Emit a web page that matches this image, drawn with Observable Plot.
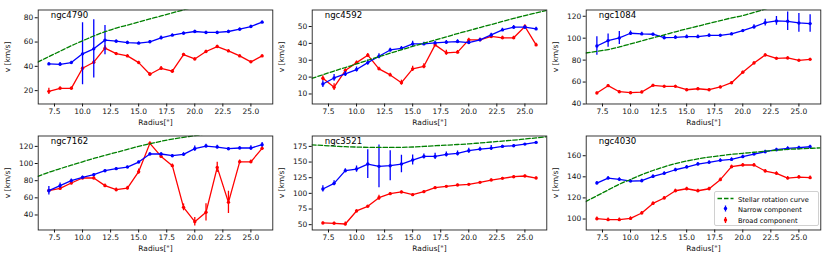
<!DOCTYPE html>
<html><head><meta charset="utf-8">
<script src="https://cdn.jsdelivr.net/npm/d3@7"></script>
<script src="https://cdn.jsdelivr.net/npm/@observablehq/plot@0.6"></script>
<style>
body{margin:0;background:#fff;}
#root{position:relative;width:830px;height:260px;overflow:hidden;font-family:"DejaVu Sans",sans-serif;background:#fff;}
.panel{position:absolute;}
#legend{position:absolute;left:714px;top:191px;width:103px;height:33px;border:0.8px solid #d0d0d0;border-radius:2px;background:rgba(255,255,255,0.85);font-family:"DejaVu Sans",sans-serif;font-size:6.7px;color:#000;}
</style></head><body><div id="root"></div>
<script>
// ---- data ----
const radius = [7,8,9,10,11,12,13,14,15,16,17,18,19,20,21,22,23,24,25,26];
const stellarRadius = [6,7,8,9,10,11,12,13,14,15,16,17,18,19,20,21,22,23,24,25,26,27];
const galaxyNames = ["ngc4790","ngc4592","ngc1084","ngc7162","ngc3521","ngc4030"];
const xTicks = [7.5,10,12.5,15,17.5,20,22.5,25];

const narrow_ngc4790 = [42.0,41.7,43.1,50.3,54.4,61.6,60.7,59.6,59.1,60.2,63.5,65.7,67.3,68.7,67.9,67.9,68.7,70.6,72.8,76.4];
const narrowErr_ngc4790 = [1,1.5,1,25.5,24,12,1,1,1,1,1.5,1,1,1,1,1,1,1,1,1];
const broad_ngc4790 = [19.4,21.9,21.9,38.4,43.4,55.0,50.5,48.6,43.1,33.5,38.4,36.0,49.7,46.1,52.2,56.3,52.7,48.6,43.7,48.6];
const broadErr_ngc4790 = [2.5,1,1,1.5,1.5,2,1,1,1,1.5,1.5,1.5,1,1,1,1,1,1,1,1];
const stellar_ngc4790 = [43.5,48,52.5,57,61,65,68.5,71.5,74,76.5,79,81.5,84,86.5,89,91.5,94,96.5,99,101,103,105];

const narrow_ngc4592 = [15.9,19.5,21.9,24.5,28.6,32.4,36.1,37.1,39.7,39.7,40.3,40.7,41.1,40.5,42.1,45.0,48.0,49.6,49.6,48.6];
const narrowErr_ngc4592 = [2,2,1.5,1.5,1.5,1.5,1,1,1.5,1,1,1,1,1,1,1,1,1,1,1];
const broad_ngc4592 = [19.3,14.0,23.9,28.6,33.0,24.9,21.3,16.7,24.9,26.4,39.1,34.4,34.8,42.1,42.1,44.1,43.3,43.3,50.0,39.1];
const broadErr_ngc4592 = [1.5,2,1,1,1,1,1,1.5,1.5,1.5,1,1.5,1,1,1,1,1,1,1,1];
const stellar_ngc4592 = [19.2,21.4,23.6,25.7,27.8,30,32.1,34.2,36.2,38.2,40.1,42,43.9,45.8,47.6,49.4,51.2,53,54.8,56.5,58.1,59.7];

const narrow_ngc1084 = [92.9,97.8,100.2,104.5,103.9,103.6,100.5,100.8,101.4,101.4,102.6,102.6,103.9,106.9,110.3,114.2,115.7,115.4,113.9,113.3];
const narrowErr_ngc1084 = [8.5,6,6,2,1.5,1,2,1.5,1.5,1.5,1.5,1,1,1,2,3,4,8.5,8.5,8];
const broad_ngc1084 = [50.0,56.7,51.2,50.3,50.9,57.0,56.1,56.1,53.0,53.9,53.0,55.5,59.4,68.9,77.4,84.7,81.6,82.0,79.8,80.7];
const broadErr_ngc1084 = [1,1,1,1,1,1,1,1,1,1,1,1,1,1,1,1,1,1,1,1];
const stellar_ngc1084 = [86.5,88,89.6,92,94.8,97.5,100.3,103,105.8,108.5,111,113.5,116,118.5,120.6,123.5,126.5,129.5,132.5,135.5,138.5,141.5];

const narrow_ngc7162 = [68.3,74.2,80.0,83.9,87.0,91.6,94.0,95.9,101.7,111.1,111.1,109.1,110.7,117.3,120.4,119.2,117.3,118.1,118.1,121.9];
const narrowErr_ngc7162 = [5,3,2,1.5,1,1,1,1,1,1.5,1.5,1.5,2,3,2,2,1.5,1.5,2.5,2.5];
const broad_ngc7162 = [68.5,71.0,77.3,83.1,83.1,74.2,69.5,71.4,90.5,123.5,108.3,97.5,48.9,32.2,43.1,95.5,54.7,102,102,117.7];
const broadErr_ngc7162 = [1,2,2,1.5,1.5,2,2,2,3,2,2,2,4,5,10,6,13,2,2,2];
const stellar_ngc7162 = [85,89.8,94,98,102,106,109.5,113,116.5,120,123,126,128.5,130.5,132.5,134.5,136.5,138.5,140.5,142.5,144.5,146.5];

const narrow_ngc3521 = [107.0,116.0,136.2,138.8,146.8,143.1,144.2,146.8,153.2,159.0,159.0,162.2,163.8,168.1,170.7,172.3,175.0,176.1,178.7,181.4];
const narrowErr_ngc3521 = [5,4,3,5,23,34,24,14,8,4,5,4,4,4,3,4,2,2,1,1];
const broad_ngc3521 = [52.7,52.2,51.1,71.9,79.3,93.1,99.5,102.2,97.9,102.7,109.1,111.2,113.3,114.4,117.6,121.3,124.0,126.6,127.7,124.5];
const broadErr_ngc3521 = [1.5,1.5,3,2,1.5,4,2,1.5,1.5,1.5,1.5,1.5,1.5,1.5,1.5,1.5,1.5,1.5,1.5,1.5];
const stellar_ngc3521 = [177.5,176.5,175.5,174.5,174,173.5,173.3,173.3,173.5,174,175,176,177,178,179,180.5,182,183.5,185,186.8,188.6,190.5];

const narrow_ngc4030 = [134.1,138.8,137.6,136.0,136.3,140.4,143.3,146.7,149.3,152.1,153.7,155.6,156.5,159.1,161.6,163.8,165.7,166.9,167.6,168.5];
const narrowErr_ngc4030 = [1.5,1.5,1.5,1.5,1.5,1.5,1.5,1.5,1.5,1.5,1.5,1.5,1.5,1.5,1.5,1.5,1.5,1.5,1.5,1.5];
const broad_ngc4030 = [100.3,99.4,99.4,100.6,105.7,114.8,119.9,126.8,128.7,126.8,128.7,137.3,149.6,151.2,151.2,145.5,143.3,138.8,139.8,139.2];
const broadErr_ngc4030 = [1.5,1.5,1.5,1.5,1.5,1.5,1.5,1.5,1.5,1.5,1.5,1.5,1.5,1.5,1.5,1.5,1.5,1.5,1.5,1.5];
const stellar_ngc4030 = [116.5,122,127.5,133,137.5,142,146,149.5,152.5,155,157,158.7,160,161.3,162.3,163.3,164.3,165.2,166,166.5,167,167.5];

const yTicks = [[20,40,60,80],[10,20,30,40,50],[40,60,80,100,120],[40,60,80,100,120],[50,75,100,125,150,175],[100,120,140,160]];
const yDomains = [[9,86.4],[4.06,59.8],[40,125.7],[22.5,132.1],[41.5,191.6],[89.6,178.7]];
const xDomain = [6.05, 26.95];
const legendLabels = ["Stellar rotation curve","Narrow component","Broad component"];

const NARROW = [narrow_ngc4790,narrow_ngc4592,narrow_ngc1084,narrow_ngc7162,narrow_ngc3521,narrow_ngc4030];
const NARROW_E = [narrowErr_ngc4790,narrowErr_ngc4592,narrowErr_ngc1084,narrowErr_ngc7162,narrowErr_ngc3521,narrowErr_ngc4030];
const BROAD = [broad_ngc4790,broad_ngc4592,broad_ngc1084,broad_ngc7162,broad_ngc3521,broad_ngc4030];
const BROAD_E = [broadErr_ngc4790,broadErr_ngc4592,broadErr_ngc1084,broadErr_ngc7162,broadErr_ngc3521,broadErr_ngc4030];
const STELLAR = [stellar_ngc4790,stellar_ngc4592,stellar_ngc1084,stellar_ngc7162,stellar_ngc3521,stellar_ngc4030];

// ---- layout ----
const colLeft = [37.7, 311.7, 585.5];
const rowTop = [9.5, 135.3];
const frameW = 234.6, frameH = 94;
const mL = 37.7, mT = 9.5, mR = 6, mB = 30;
const BLUE = "#0000ff", RED = "#ff0000", GREEN = "#008000";
const root = document.getElementById("root");

galaxyNames.forEach((name, i) => {
  const col = i % 3, row = Math.floor(i / 3);
  const rows = radius.map((r, k) => ({r, nv: NARROW[i][k], ne: NARROW_E[i][k], bv: BROAD[i][k], be: BROAD_E[i][k]}));
  const stellar = stellarRadius.map((r, k) => ({r, v: STELLAR[i][k]}));
  const chart = Plot.plot({
    width: mL + frameW + mR,
    height: mT + frameH + mB,
    marginLeft: mL, marginTop: mT, marginRight: mR, marginBottom: mB,
    style: {fontFamily: "DejaVu Sans, sans-serif", fontSize: "7.5px", background: "none", color: "#111", overflow: "visible"},
    x: {domain: xDomain},
    y: {domain: yDomains[i]},
    marks: [
      Plot.axisX({ticks: xTicks, tickFormat: d3.format(".1f"), tickSize: 3, tickPadding: 1.5, label: 'Radius["]', labelAnchor: "center", labelArrow: "none", labelOffset: 21.5}),
      Plot.axisY({ticks: yTicks[i], tickSize: 3, tickPadding: 2, label: "v [km/s]", labelAnchor: "center", labelArrow: "none", labelOffset: 33.5}),
      Plot.ruleX(rows, {x: "r", y1: d => d.bv - d.be, y2: d => d.bv + d.be, stroke: RED, strokeWidth: 1.3}),
      Plot.line(rows, {x: "r", y: "bv", stroke: RED, strokeWidth: 1.3}),
      Plot.dot(rows, {x: "r", y: "bv", fill: RED, r: 1.7}),
      Plot.ruleX(rows, {x: "r", y1: d => d.nv - d.ne, y2: d => d.nv + d.ne, stroke: BLUE, strokeWidth: 1.3, clip: true}),
      Plot.line(rows, {x: "r", y: "nv", stroke: BLUE, strokeWidth: 1.3}),
      Plot.dot(rows, {x: "r", y: "nv", fill: BLUE, r: 1.7}),
      Plot.line(stellar, {x: "r", y: "v", stroke: GREEN, strokeWidth: 1.3, strokeDasharray: "4.5,2", clip: true, curve: "monotone-x"}),
      Plot.text([name], {frameAnchor: "top-left", dx: 12.5, dy: 2, textAnchor: "start", lineAnchor: "top", fontSize: 8.6, fill: "#000"}),
      Plot.frame({stroke: "#222", strokeWidth: 0.9})
    ]
  });
  chart.classList.add("panel");
  chart.style.left = (colLeft[col] - mL) + "px";
  chart.style.top = (rowTop[row] - mT) + "px";
  root.appendChild(chart);
});

// ---- legend (panel 6) ----
const leg = document.createElement("div");
leg.id = "legend";
leg.innerHTML = `
<svg width="20" height="33" style="position:absolute;left:0;top:0">
  <line x1="2.5" x2="18.5" y1="6.5" y2="6.5" stroke="${GREEN}" stroke-width="1.3" stroke-dasharray="4.5,2"/>
  <line x1="10.5" x2="10.5" y1="13.5" y2="19.5" stroke="${BLUE}" stroke-width="1.3"/>
  <circle cx="10.5" cy="16.5" r="1.7" fill="${BLUE}"/>
  <line x1="10.5" x2="10.5" y1="25" y2="31" stroke="${RED}" stroke-width="1.3"/>
  <circle cx="10.5" cy="28" r="1.7" fill="${RED}"/>
</svg>
<div style="position:absolute;left:23px;top:2.5px;line-height:10.6px;white-space:nowrap">${legendLabels.join("<br>")}</div>`;
root.appendChild(leg);
</script>
</body></html>
